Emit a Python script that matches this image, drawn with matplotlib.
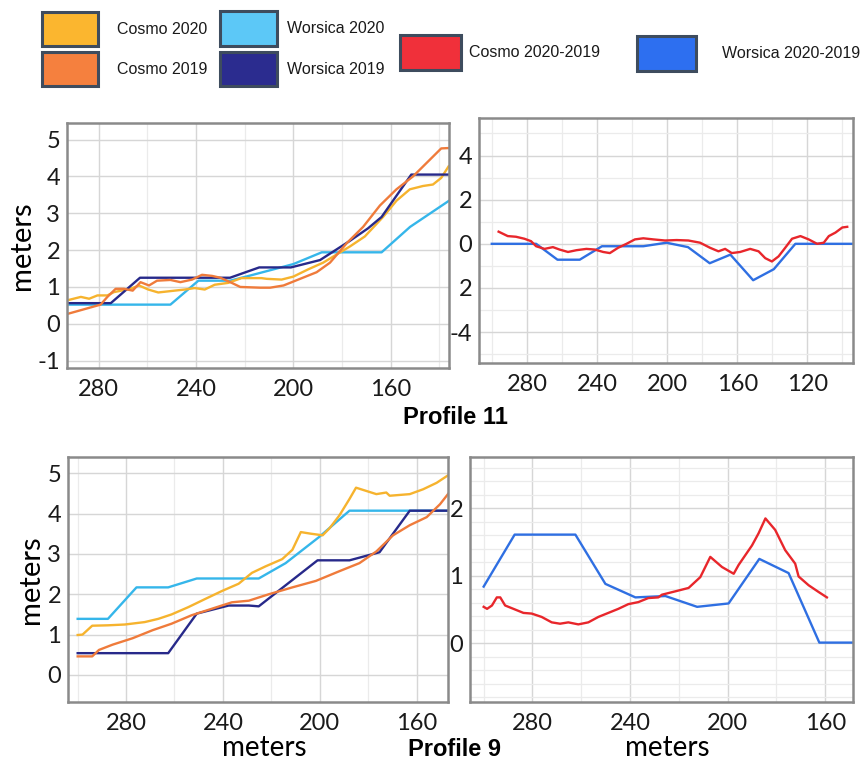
import matplotlib
matplotlib.use("Agg")
import matplotlib.pyplot as plt
from matplotlib.patches import Patch
from matplotlib.ticker import MultipleLocator, FixedLocator, FixedFormatter

plt.rcParams["axes.unicode_minus"] = False

# ---------------- data ----------------
# Profile 11 (top-left)
p11_w19_x = [293, 275, 263, 226, 214, 201, 189, 177, 169.3, 163.7, 151.5, 136]
p11_w19_y = [0.56, 0.56, 1.25, 1.25, 1.53, 1.53, 1.73, 2.24, 2.59, 2.9, 4.05, 4.05]
p11_w20_x = [293, 250.5, 239, 226, 217.7, 200, 188.3, 163.7, 152, 136]
p11_w20_y = [0.52, 0.52, 1.17, 1.17, 1.31, 1.62, 1.94, 1.94, 2.63, 3.34]
p11_c19_x = [292.7, 279.2, 276.4, 273, 269.6, 266, 262.8, 259.3, 256, 250.5, 246.4, 241.6,
             237.5, 233.4, 230, 225.9, 221.8, 213.6, 209.5, 204, 197.2, 190.4, 184.9, 178,
             171.3, 164.4, 157.6, 150.8, 145.3, 139.2, 136.2]
p11_c19_y = [0.27, 0.52, 0.73, 0.95, 0.95, 0.9, 1.13, 1.04, 1.17, 1.19, 1.13, 1.2,
             1.33, 1.3, 1.25, 1.13, 1.0, 0.98, 0.98, 1.04, 1.22, 1.4, 1.66, 2.19,
             2.63, 3.21, 3.65, 4.0, 4.36, 4.76, 4.77]
p11_c20_x = [292.7, 287.3, 283.9, 280.5, 276.4, 273.7, 266.9, 263.4, 259.6, 255.5, 250.1,
             244.6, 240.5, 236.4, 232.3, 226.8, 221.3, 213.1, 210.9, 204.8, 200, 193.8,
             187.7, 182.2, 176.7, 170.6, 163.1, 157.6, 152.1, 146.7, 142.6, 139.2, 136.2]
p11_c20_y = [0.64, 0.73, 0.68, 0.77, 0.77, 0.86, 0.95, 1.04, 0.93, 0.85, 0.89,
             0.93, 0.97, 0.93, 1.06, 1.11, 1.24, 1.24, 1.22, 1.2, 1.28, 1.48,
             1.66, 1.88, 2.1, 2.37, 2.9, 3.34, 3.65, 3.74, 3.78, 3.96, 4.27]

# Profile 11 difference (top-right)
p11_dc_x = [296.3, 291.1, 286.4, 281.6, 277.8, 274.9, 270.1, 265.3, 261.5, 256.7, 251.9,
            246.2, 241.4, 236.6, 232.8, 228.1, 223.3, 218.5, 213.7, 208, 201.3, 194.7,
            188, 181.3, 175.6, 170.8, 167, 163.2, 158.4, 152.7, 147.9, 144.1, 140.3,
            136.5, 132.7, 128.8, 124, 119.3, 114.5, 110.7, 107.8, 104, 100.1, 97.3]
p11_dc_y = [0.55, 0.35, 0.32, 0.23, 0.12, -0.11, -0.23, -0.15, -0.26, -0.37, -0.29,
            -0.23, -0.26, -0.37, -0.42, -0.18, 0.0, 0.2, 0.25, 0.2, 0.15, 0.17,
            0.15, 0.05, -0.18, -0.34, -0.23, -0.42, -0.37, -0.23, -0.34, -0.65, -0.8,
            -0.57, -0.18, 0.23, 0.35, 0.2, 0.0, 0.05, 0.35, 0.51, 0.74, 0.77]
p11_dw_x = [300.2, 274.9, 262.7, 250, 237.3, 213.7, 200.5, 188.2, 175.8, 164, 151, 139.2, 126.9, 94]
p11_dw_y = [0, 0, -0.72, -0.72, -0.11, -0.11, 0.05, -0.15, -0.88, -0.49, -1.65, -1.15, 0, 0]

# Profile 9 (bottom-left)
p9_w20_x = [300, 287.5, 275.7, 262.6, 250.8, 225.2, 214.1, 200.2, 187.7, 147]
p9_w20_y = [1.39, 1.39, 2.17, 2.17, 2.39, 2.39, 2.77, 3.42, 4.07, 4.07]
p9_w19_x = [300, 262.6, 250.8, 237.6, 229.3, 225.2, 200.9, 187.7, 175.3, 162.8, 147]
p9_w19_y = [0.54, 0.54, 1.52, 1.72, 1.72, 1.7, 2.84, 2.84, 3.04, 4.07, 4.07]
p9_c20_x = [300, 298, 294, 287.5, 280.5, 272.3, 266.7, 261.2, 254.3, 247.4, 240.4, 233.5,
            228, 222.4, 215.5, 211.3, 207.8, 203.7, 198.8, 196, 191.9, 187.7, 185, 180.8,
            176.6, 172.5, 171.1, 162.8, 157.3, 151.7, 146.9]
p9_c20_y = [0.99, 1.0, 1.22, 1.23, 1.25, 1.31, 1.39, 1.5, 1.68, 1.88, 2.08, 2.26,
            2.53, 2.69, 2.87, 3.1, 3.54, 3.5, 3.46, 3.63, 3.95, 4.36, 4.64, 4.56,
            4.48, 4.52, 4.44, 4.48, 4.6, 4.76, 4.95]
p9_c19_x = [300, 294, 291.2, 285.6, 277.3, 269, 261.2, 252.9, 244.6, 236.3, 229.3, 221,
            211.3, 201.6, 191.9, 183.6, 176.6, 169.7, 162.8, 155.8, 150.3, 146.9]
p9_c19_y = [0.46, 0.46, 0.62, 0.75, 0.91, 1.11, 1.27, 1.48, 1.64, 1.8, 1.84, 2.0,
            2.17, 2.33, 2.57, 2.77, 3.06, 3.46, 3.71, 3.91, 4.23, 4.49]

# Profile 9 difference (bottom-right)
p9_dw_x = [300, 287.3, 262.4, 250.1, 237.8, 225.5, 212.5, 199.6, 187, 175, 162.4, 148.6]
p9_dw_y = [0.84, 1.61, 1.61, 0.88, 0.68, 0.7, 0.54, 0.59, 1.25, 1.04, 0.01, 0.01]
p9_dc_x = [300, 298.6, 296.6, 294.6, 293.2, 291.2, 287.1, 283.7, 280.3, 276.2, 272.1, 268.7,
           265.3, 261.2, 257.1, 253, 248.9, 244.8, 240.7, 236.6, 232.5, 228.4, 226.9, 221.4,
           216, 211.2, 207.1, 202.3, 197.5, 195.5, 190, 187.3, 184.5, 180.5, 176.4, 172.3,
           170.9, 166.8, 162.7, 159.3]
p9_dc_y = [0.54, 0.51, 0.56, 0.68, 0.68, 0.56, 0.5, 0.45, 0.44, 0.39, 0.31, 0.29,
           0.31, 0.28, 0.31, 0.39, 0.45, 0.51, 0.58, 0.61, 0.67, 0.68, 0.72, 0.77,
           0.82, 0.98, 1.28, 1.13, 1.03, 1.16, 1.45, 1.63, 1.85, 1.68, 1.38, 1.18,
           0.99, 0.86, 0.76, 0.68]

legend_left = ["Cosmo 2020", "Cosmo 2019"]
legend_mid = ["Worsica 2020", "Worsica 2019"]
legend_diff = ["Cosmo 2020-2019", "Worsica 2020-2019"]

xticks_a = [280, 240, 200, 160]
xticks_b = [280, 240, 200, 160, 120]
yticks_p11 = [-1, 0, 1, 2, 3, 4, 5]
yticks_d11 = [-4, -2, 0, 2, 4]
yticks_d11_labels = ["-4", "2", "0", "2", "4"]
yticks_p9 = [0, 1, 2, 3, 4, 5]
yticks_d9 = [0, 1, 2]

# ---------------- style ----------------
C20 = "#F6B32E"
C19 = "#EF7B3B"
W20 = "#35B6EA"
W19 = "#27298A"
DC = "#E8262B"
DW = "#2F6FE2"
LEG = {"Cosmo 2020": "#FBB62F", "Cosmo 2019": "#F5803E", "Worsica 2020": "#5CC8F7",
       "Worsica 2019": "#2B2C8F", "Cosmo 2020-2019": "#F0303A", "Worsica 2020-2019": "#2D6FF0"}
EDGE = "#3E4C5E"

TICKFONT = ["Lato", "DejaVu Sans"]
LW = 1.7

fig = plt.figure(figsize=(8.62, 7.6), dpi=100)
W, H = 862, 760


def add_ax(l, r, t, b):
    return fig.add_axes([l / W, 1 - b / H, (r - l) / W, (b - t) / H])


def style(ax, xlim, ylim, xt, yt, ylabels=None, yminor=None):
    ax.set_xlim(*xlim)
    ax.set_ylim(*ylim)
    ax.xaxis.set_major_locator(FixedLocator(xt))
    ax.xaxis.set_minor_locator(MultipleLocator(20))
    ax.yaxis.set_major_locator(FixedLocator(yt))
    if ylabels is not None:
        ax.yaxis.set_major_formatter(FixedFormatter(ylabels))
    if yminor is not None:
        ax.yaxis.set_minor_locator(MultipleLocator(yminor))
    ax.grid(True, which="major", color="#d6d6d6", lw=1.0)
    ax.grid(True, which="minor", color="#ebebeb", lw=0.9)
    ax.set_axisbelow(True)
    for s in ax.spines.values():
        s.set_color("#8a8a8a")
        s.set_linewidth(1.8)
    ax.tick_params(which="both", length=0)
    ax.tick_params(axis="x", pad=8, labelsize=17, labelcolor="#1a1a1a")
    ax.tick_params(axis="y", pad=5, labelsize=17, labelcolor="#1a1a1a")
    for lab in ax.get_xticklabels() + ax.get_yticklabels():
        lab.set_family(TICKFONT)


# top-left
ax1 = add_ax(67, 449, 123, 368)
ax1.plot(p11_w20_x, p11_w20_y, color=W20, lw=LW)
ax1.plot(p11_c20_x, p11_c20_y, color=C20, lw=LW)
ax1.plot(p11_w19_x, p11_w19_y, color=W19, lw=LW)
ax1.plot(p11_c19_x, p11_c19_y, color=C19, lw=LW)
style(ax1, (293, 136), (-1.2, 5.45), xticks_a, yticks_p11)
ax1.set_ylabel("meters", fontsize=21, family=TICKFONT, labelpad=2)

# top-right
ax2 = add_ax(479, 853, 118, 363)
ax2.plot(p11_dw_x, p11_dw_y, color=DW, lw=LW)
ax2.plot(p11_dc_x, p11_dc_y, color=DC, lw=LW)
style(ax2, (307.5, 94), (-5.4, 5.7), xticks_b, yticks_d11, yticks_d11_labels, yminor=1)

# bottom-left
ax3 = add_ax(68, 448, 457, 702)
ax3.plot(p9_w20_x, p9_w20_y, color=W20, lw=LW)
ax3.plot(p9_c20_x, p9_c20_y, color=C20, lw=LW)
ax3.plot(p9_w19_x, p9_w19_y, color=W19, lw=LW)
ax3.plot(p9_c19_x, p9_c19_y, color=C19, lw=LW)
style(ax3, (304, 147), (-0.67, 5.4), xticks_a, yticks_p9)
ax3.set_ylabel("meters", fontsize=21, family=TICKFONT, labelpad=2)

# bottom-right
ax4 = add_ax(470, 853, 457, 702)
ax4.plot(p9_dw_x, p9_dw_y, color=DW, lw=LW)
ax4.plot(p9_dc_x, p9_dc_y, color=DC, lw=LW)
style(ax4, (305.6, 148.6), (-0.87, 2.76), xticks_a, yticks_d9, yminor=0.2)

# x-axis titles of the bottom row
fig.text(264 / W, 1 - 756 / H, "meters", ha="center", va="baseline",
         fontsize=20, family=TICKFONT)
fig.text(667 / W, 1 - 756 / H, "meters", ha="center", va="baseline",
         fontsize=20, family=TICKFONT)

# profile titles
fig.text(455 / W, 1 - 417 / H, "Profile 11", ha="center", va="center",
         fontsize=17, fontweight="bold", family=["Liberation Sans", "DejaVu Sans"])
fig.text(455 / W, 1 - 749 / H, "Profile 9", ha="center", va="center",
         fontsize=17, fontweight="bold", family=["Liberation Sans", "DejaVu Sans"])

# legends
LFONT = {"family": ["Liberation Sans", "DejaVu Sans"], "size": 11.5}


def make_legend(labels, x, y, hl, hh, pad, spacing=0.45):
    handles = [Patch(facecolor=LEG[l], edgecolor=EDGE, linewidth=2.2) for l in labels]
    leg = fig.legend(handles, labels, loc="upper left", bbox_to_anchor=(x / W, 1 - y / H),
                     frameon=False, prop=LFONT, handlelength=hl, handleheight=hh,
                     handletextpad=pad, labelspacing=spacing, borderpad=0, borderaxespad=0)
    for t in leg.get_texts():
        t.set_color("#1a1a1a")
    return leg


make_legend(legend_left, 42, 12, 3.5, 2.9, 1.2, spacing=0.4)
make_legend(legend_mid, 220, 11, 3.6, 2.95, 0.6, spacing=0.4)
make_legend(legend_diff[:1], 400, 35, 3.8, 3.0, 0.5)
make_legend(legend_diff[1:], 637, 36, 3.7, 3.0, 1.6)

fig.savefig("out.png", dpi=100)
